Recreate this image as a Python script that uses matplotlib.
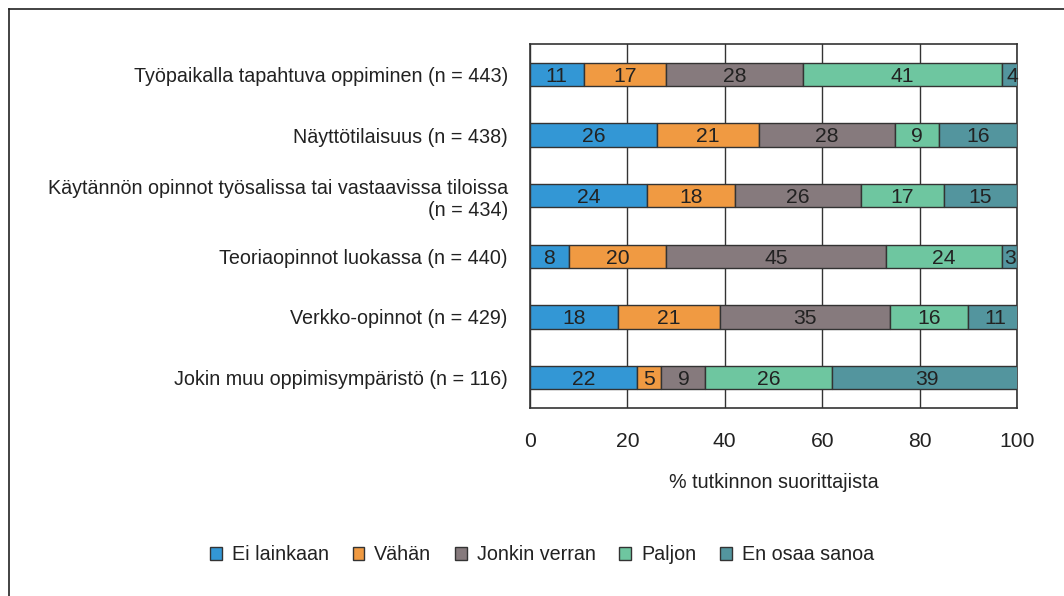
import matplotlib.pyplot as plt
import numpy as np
from matplotlib.lines import Line2D
from matplotlib.patches import Patch

# --- Données ---
categories = [
    "Työpaikalla tapahtuva oppiminen (n = 443)",
    "Näyttötilaisuus (n = 438)",
    "Käytännön opinnot työsalissa tai vastaavissa tiloissa\n(n = 434)",
    "Teoriaopinnot luokassa (n = 440)",
    "Verkko-opinnot (n = 429)",
    "Jokin muu oppimisympäristö (n = 116)",
]
series = ["Ei lainkaan", "Vähän", "Jonkin verran", "Paljon", "En osaa sanoa"]
ei_lainkaan = [11, 26, 24, 8, 18, 22]
vahan = [17, 21, 18, 20, 21, 5]
jonkin_verran = [28, 28, 26, 45, 35, 9]
paljon = [41, 9, 17, 24, 16, 26]
en_osaa = [4, 16, 15, 3, 11, 39]
xticks = [0, 20, 40, 60, 80, 100]
xlabel = "% tutkinnon suorittajista"

colors = ["#3397d5", "#f09a42", "#867a7d", "#6ec6a0", "#53959e"]

# --- Police ---
plt.rcParams["font.family"] = ["Liberation Sans", "DejaVu Sans"]
txt = "#222222"
fs = 14.2

# --- Graphe ---
fig = plt.figure(figsize=(10.64, 5.96), dpi=100)
ax = fig.add_axes([530 / 1064, 1 - 408 / 596, 487 / 1064, 364 / 596])

values = [ei_lainkaan, vahan, jonkin_verran, paljon, en_osaa]
y = np.arange(len(categories))
left = np.zeros(len(categories))
for vals, col, name in zip(values, colors, series):
    vals = np.array(vals, dtype=float)
    bars = ax.barh(y, vals, left=left, height=0.38, color=col,
                   edgecolor="#333333", linewidth=1, label=name, zorder=3)
    for b, v in zip(bars, vals):
        ax.text(b.get_x() + b.get_width() / 2, b.get_y() + b.get_height() / 2 + 0.03,
                f"{int(v)}", ha="center", va="center", fontsize=fs + 1,
                color=txt, zorder=4)
    left += vals

ax.set_xlim(0, 100)
ax.set_ylim(len(categories) - 0.5, -0.5)
ax.set_xticks(xticks)
ax.set_yticks(y)
ax.set_yticklabels(categories, fontsize=fs, color=txt, linespacing=1.25)
ax.tick_params(axis="x", length=0, pad=17, labelsize=fs + 1, labelcolor=txt)
ax.tick_params(axis="y", length=0, pad=16)
for lab in ax.get_yticklabels():
    lab.set_ha("right")
    lab.set_multialignment("right")
ax.xaxis.grid(True, color="#333333", linewidth=1, zorder=0)
for s in ax.spines.values():
    s.set_color("#333333")
    s.set_linewidth(1.2)
ax.set_xlabel(xlabel, fontsize=fs, color=txt, labelpad=16)

# --- Légende ---
handles = [Patch(facecolor=c, edgecolor="#333333", linewidth=1, label=n)
           for c, n in zip(colors, series)]
fig.legend(handles=handles, loc="center", bbox_to_anchor=(542 / 1064, 1 - 555 / 596),
           ncol=5, frameon=False, fontsize=fs, handlelength=0.6, handleheight=0.6,
           handletextpad=0.5, columnspacing=1.2, labelcolor=txt)

# --- Cadre ---
fig.add_artist(Line2D([9 / 1064, 1], [1 - 9 / 596, 1 - 9 / 596], color="#222222", lw=1.2))
fig.add_artist(Line2D([9 / 1064, 9 / 1064], [0, 1 - 9 / 596], color="#222222", lw=1.2))

fig.savefig("out.png", dpi=100)
